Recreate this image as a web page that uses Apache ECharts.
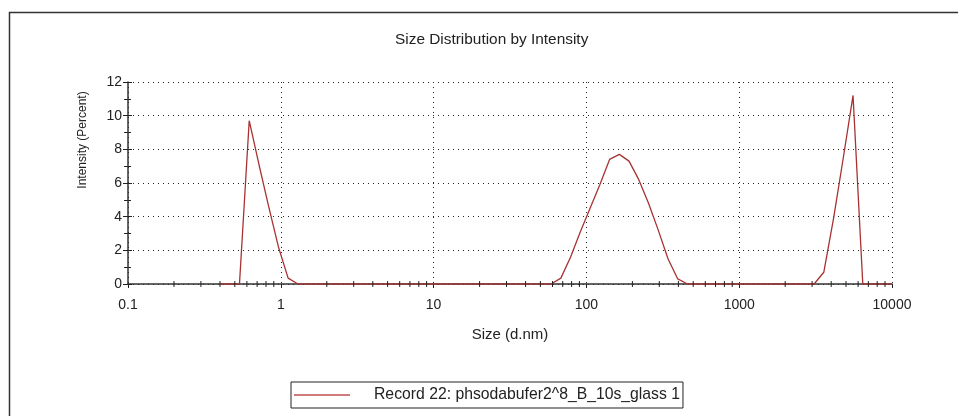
<!DOCTYPE html>
<html>
<head>
<meta charset="utf-8">
<script src="https://cdn.jsdelivr.net/npm/echarts@6/dist/echarts.min.js"></script>
<style>
html,body{margin:0;padding:0;background:#fff;}
#chart{width:958px;height:416px;}
</style>
</head>
<body>
<div id="chart"></div>
<script>
// Size bins (d.nm) and intensity (%)
var sizes = [0.4, 0.5365, 0.6213, 0.7195, 0.8332, 0.9649, 1.117, 1.294,
             58.77, 68.06, 78.82, 91.28, 105.7, 122.4, 141.8, 164.2, 190.1, 220.2, 255.0, 295.3, 342.0, 396.1, 458.7,
             3091, 3580, 4145, 4801, 5560, 6439, 10000];
var intensity = [0, 0, 9.7, 7.1, 4.6, 2.2, 0.35, 0,
                 0, 0.35, 1.6, 3.1, 4.5, 5.9, 7.4, 7.7, 7.3, 6.2, 4.8, 3.2, 1.5, 0.3, 0,
                 0, 0.7, 3.9, 7.5, 11.2, 0, 0];
var seriesName = 'Record 22: phsodabufer2^8_B_10s_glass 1';
var titleText = 'Size Distribution by Intensity';
var xName = 'Size (d.nm)';
var yName = 'Intensity (Percent)';
var decades = [0.1, 1, 10, 100, 1000];
var minorSteps = [2, 3, 4, 5, 6, 7, 8, 9];

var minorTicks = [];
decades.forEach(function (d) { minorSteps.forEach(function (m) { minorTicks.push([d * m, 0]); }); });

var pts = sizes.map(function (s, i) { return [s, intensity[i]]; });

var font = 'Liberation Sans, Arial, sans-serif';
var chart = echarts.init(document.getElementById('chart'));
chart.setOption({
  animation: false,
  backgroundColor: '#fff',
  title: {
    text: titleText, left: 390, top: 27,
    textStyle: { fontFamily: font, fontSize: 15.4, fontWeight: 'normal', color: '#222' }
  },
  graphic: [
    { type: 'rect', shape: { x: 9.5, y: 12.5, width: 1000, height: 500 },
      style: { fill: 'none', stroke: '#333', lineWidth: 1.5 }, z: -1 },
    { type: 'text', x: 83, y: 140, rotation: Math.PI / 2,
      style: { text: yName, fontFamily: font, fontSize: 12, fill: '#222', align: 'center', verticalAlign: 'middle' } }
  ],
  legend: {
    data: [seriesName], left: 291, top: 382,
    icon: 'rect', itemWidth: 56, itemHeight: 1.5, itemGap: 0,
    borderColor: '#222', borderWidth: 1, padding: [5, 3, 5, 3],
    textStyle: { fontFamily: font, fontSize: 15.75, color: '#222', padding: [0, 0, 0, 19] }
  },
  grid: { left: 128, right: 66, top: 82, bottom: 132 },
  xAxis: {
    type: 'log', logBase: 10, min: 0.1, max: 10000,
    name: xName, nameLocation: 'middle', nameGap: 43,
    nameTextStyle: { fontFamily: font, fontSize: 15, color: '#222' },
    axisLine: { lineStyle: { color: '#333', width: 1.5 } },
    axisTick: { show: true, length: 4, lineStyle: { color: '#222' } },
    axisLabel: { fontFamily: font, fontSize: 14, color: '#222', margin: 14,
      formatter: function (v) { return String(+v.toPrecision(6)); } },
    splitLine: { show: true, lineStyle: { color: '#222', type: [1, 4], width: 1 } }
  },
  yAxis: [{
    type: 'value', min: 0, max: 12, interval: 2,
    axisLine: { show: true, lineStyle: { color: '#333', width: 1.5 } },
    axisTick: { show: true, length: 5, lineStyle: { color: '#222' } },
    minorTick: { show: true, splitNumber: 2, length: 4, lineStyle: { color: '#222' } },
    axisLabel: { fontFamily: font, fontSize: 14, color: '#222', margin: 6 },
    splitLine: { show: true, lineStyle: { color: '#222', type: [1, 4], width: 1 } }
  }, {
    type: 'value', min: 0, max: 12, interval: 2, position: 'left',
    axisLine: { show: false },
    axisTick: { show: true, inside: true, length: 4, lineStyle: { color: '#222' } },
    minorTick: { show: true, splitNumber: 2, length: 3, lineStyle: { color: '#222' } },
    axisLabel: { show: false },
    splitLine: { show: false }
  }],
  series: [{
    name: seriesName, type: 'line', data: pts, symbol: 'none',
    lineStyle: { color: '#a83232', width: 1.3 }, itemStyle: { color: '#c05050' }, z: 3
  }, {
    type: 'custom', data: minorTicks, clip: false, silent: true, z: 4,
    renderItem: function (params, api) {
      var p = api.coord([api.value(0), 0]);
      return { type: 'line', shape: { x1: p[0], y1: p[1] - 3, x2: p[0], y2: p[1] + 3 },
        style: { stroke: '#222', lineWidth: 1 } };
    }
  }]
});
</script>
</body>
</html>
